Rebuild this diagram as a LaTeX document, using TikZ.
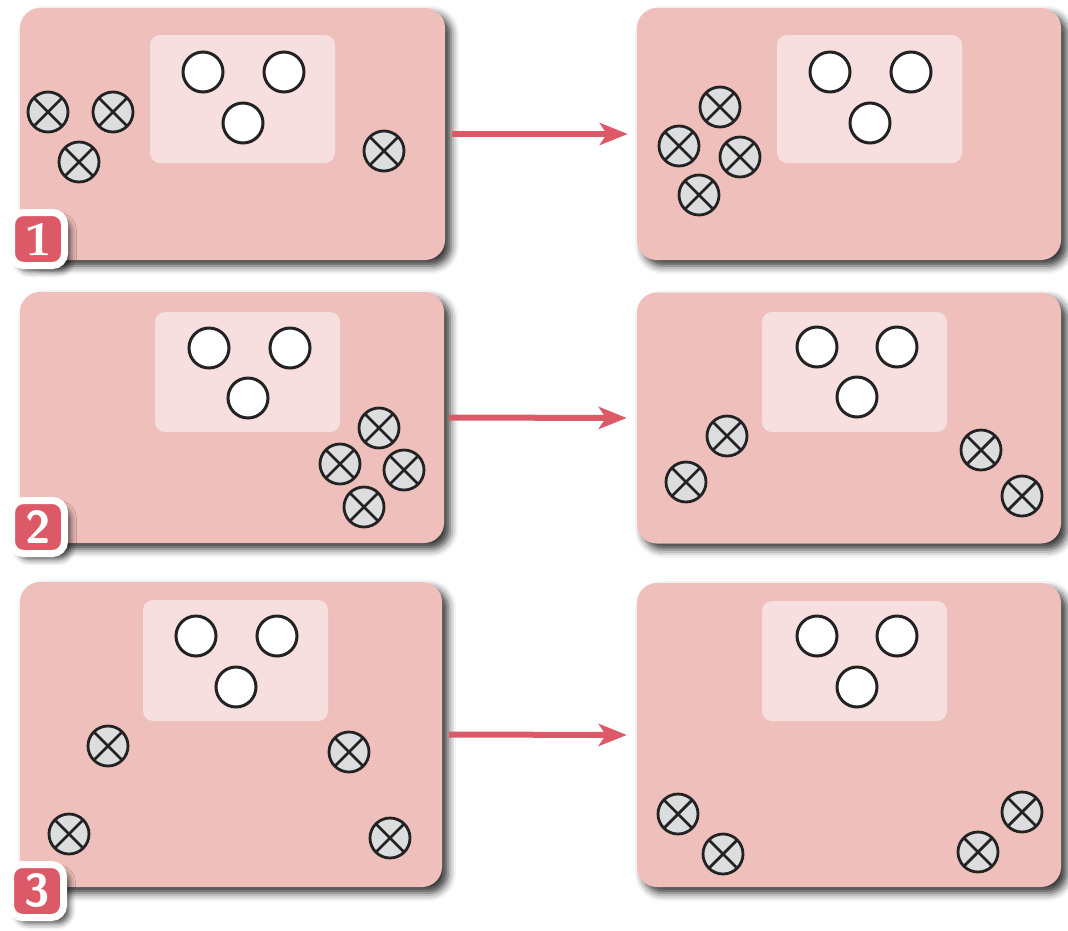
\documentclass[tikz,border=0pt]{standalone}
\usepackage{fontspec}
\usetikzlibrary{arrows.meta,shadows.blur}
\definecolor{panelpink}{HTML}{EFBFBC}
\definecolor{innerpink}{HTML}{F6DFDE}
\definecolor{accent}{HTML}{DC5A68}
\definecolor{xfill}{HTML}{DCDDDE}
\definecolor{ink}{HTML}{222222}
\newfontfamily\badgeserif{TeX Gyre Pagella}
\tikzset{
  panel/.style={fill=panelpink, rounded corners=20pt, inner sep=0pt,
    blur shadow={shadow xshift=6pt, shadow yshift=-6pt, shadow blur radius=8pt, shadow opacity=80}},
  innerbox/.style={fill=innerpink, rounded corners=10pt, inner sep=0pt, minimum width=185pt},
  wc/.style={circle, draw=ink, fill=white, line width=3pt, minimum size=40pt, inner sep=0pt},
  xc/.style={circle, draw=ink, fill=xfill, line width=2.8pt, minimum size=40pt, inner sep=0pt,
    path picture={\draw[ink, line width=2.8pt] (path picture bounding box.north west) -- (path picture bounding box.south east)
      (path picture bounding box.north east) -- (path picture bounding box.south west);}},
  badge/.style={fill=accent, draw=white, line width=7pt, rounded corners=12pt, minimum size=53pt, inner sep=0pt,
    text=white,
    blur shadow={shadow xshift=6pt, shadow yshift=-6pt, shadow blur radius=6pt, shadow opacity=70}},
  flow/.style={accent, line width=6pt, -{Stealth[length=28pt, width=22pt, inset=7pt]}}
}
\begin{document}
\begin{tikzpicture}[x=1pt, y=-1pt]
\useasboundingbox (0,0) rectangle (1068,930);
% panels
\node[panel, minimum width=425pt, minimum height=252pt] (p1l) at (232.5,134) {};
\node[panel, minimum width=424pt, minimum height=252pt] (p1r) at (849,134) {};
\node[panel, minimum width=424pt, minimum height=251pt] (p2l) at (232,417.5) {};
\node[panel, minimum width=424pt, minimum height=251pt] (p2r) at (849,418) {};
\node[panel, minimum width=422pt, minimum height=305pt] (p3l) at (231,734.5) {};
\node[panel, minimum width=424pt, minimum height=304pt] (p3r) at (849,735) {};
% inner boxes
\node[innerbox, minimum height=128pt] (i1l) at (242.5,99) {};
\node[innerbox, minimum height=128pt] (i1r) at (869.5,99) {};
\node[innerbox, minimum height=120pt] (i2l) at (247.5,372) {};
\node[innerbox, minimum height=120pt] (i2r) at (854.5,372) {};
\node[innerbox, minimum height=121pt] (i3l) at (235.5,660.5) {};
\node[innerbox, minimum height=120pt] (i3r) at (854.5,661) {};
% white circles
\node[wc] (a1) at (203,72) {}; \node[wc] (a2) at (284,72) {}; \node[wc] (a3) at (243,123) {};
\node[wc] (b1) at (830,72) {}; \node[wc] (b2) at (911,72) {}; \node[wc] (b3) at (870,123) {};
\node[wc] (c1) at (209,348) {}; \node[wc] (c2) at (290,348) {}; \node[wc] (c3) at (248,398) {};
\node[wc] (d1) at (817,347) {}; \node[wc] (d2) at (897,347) {}; \node[wc] (d3) at (857,397) {};
\node[wc] (e1) at (196,636) {}; \node[wc] (e2) at (277,636) {}; \node[wc] (e3) at (236,687) {};
\node[wc] (f1) at (817,636) {}; \node[wc] (f2) at (897,636) {}; \node[wc] (f3) at (857,687) {};
% crossed circles
\node[xc] (x11) at (48,112) {}; \node[xc] (x12) at (113,112) {}; \node[xc] (x13) at (79,162) {}; \node[xc] (x14) at (384,151) {};
\node[xc] (y11) at (720,107) {}; \node[xc] (y12) at (679,146) {}; \node[xc] (y13) at (740,157) {}; \node[xc] (y14) at (699,195) {};
\node[xc] (x21) at (379,428) {}; \node[xc] (x22) at (340,464) {}; \node[xc] (x23) at (404,470) {}; \node[xc] (x24) at (364,507) {};
\node[xc] (y21) at (727,436) {}; \node[xc] (y22) at (686,482) {}; \node[xc] (y23) at (981,450) {}; \node[xc] (y24) at (1022,496) {};
\node[xc] (x31) at (108,746) {}; \node[xc] (x32) at (69,834) {}; \node[xc] (x33) at (349,752) {}; \node[xc] (x34) at (390,838) {};
\node[xc] (y31) at (678,814) {}; \node[xc] (y32) at (723,854) {}; \node[xc] (y33) at (978,852) {}; \node[xc] (y34) at (1022,812) {};
% arrows
\draw[flow] ([xshift=7pt]p1l.east) -- ([xshift=-9pt]p1r.west);
\draw[flow] ([xshift=5pt]p2l.east) -- ([xshift=-10pt]p2r.west);
\draw[flow] ([xshift=7pt]p3l.east) -- ([xshift=-10pt]p3r.west);
% badges
\node[badge, font=\fontsize{48}{48}\selectfont\badgeserif\bfseries] (n1) at (38,239) {1};
\node[badge, font=\fontsize{46}{46}\selectfont\sffamily\bfseries] (n2) at (38,527) {2};
\node[badge, font=\fontsize{46}{46}\selectfont\sffamily\bfseries] (n3) at (37,891) {3};
\end{tikzpicture}
\end{document}
